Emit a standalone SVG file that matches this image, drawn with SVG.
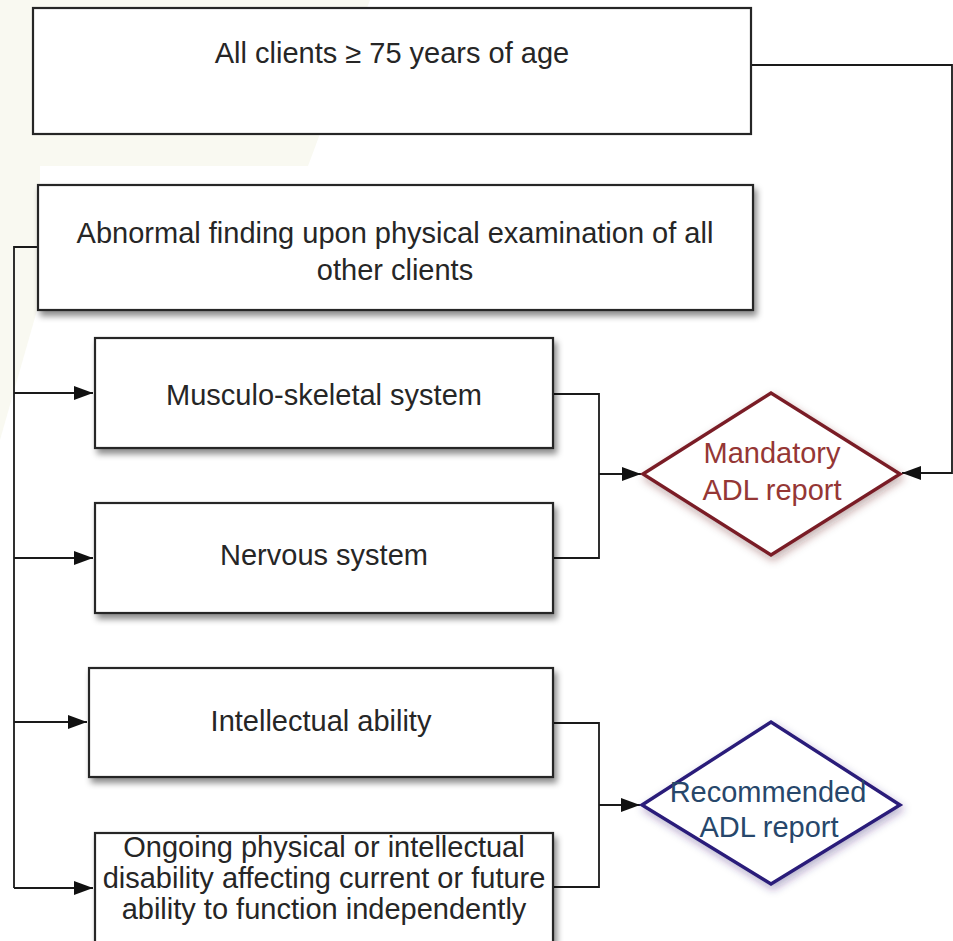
<svg xmlns="http://www.w3.org/2000/svg" width="953" height="941" viewBox="0 0 953 941">
<style>
  .box{fill:#ffffff;stroke:#262626;stroke-width:2.2}
  .t{font-family:"Liberation Sans",Arial,sans-serif;font-size:29px;fill:#262626;text-anchor:middle}
  .con{fill:none;stroke:#1a1a1a;stroke-width:1.8}
  .bg{fill:#f9f9f1}
</style>
<defs>
  <filter id="sh" x="-10%" y="-10%" width="125%" height="135%">
    <feDropShadow dx="3" dy="5" stdDeviation="3" flood-color="#000" flood-opacity="0.45"/>
  </filter>
  <filter id="glowR" x="-10%" y="-10%" width="125%" height="130%">
    <feDropShadow dx="2" dy="4" stdDeviation="4" flood-color="#5a2020" flood-opacity="0.35"/>
  </filter>
  <filter id="glowB" x="-10%" y="-10%" width="125%" height="130%">
    <feDropShadow dx="2" dy="4" stdDeviation="4" flood-color="#302070" flood-opacity="0.35"/>
  </filter>
  <marker id="arr" markerUnits="userSpaceOnUse" markerWidth="22" markerHeight="16" refX="19" refY="7" orient="auto">
    <path d="M0,0 L19,7 L0,14 z" fill="#111"/>
  </marker>
</defs>
<rect width="953" height="941" fill="#ffffff"/>
<g id="background">
  <polygon class="bg" points="0,0 370,0 308,166 0,166"/>
  <polygon class="bg" points="0,166 40,166 40,300 0,440"/>
</g>
<g id="connectors">
  <path class="con" d="M751,65 H952 V473 H902" marker-end="url(#arr)"/>
  <path class="con" d="M38,247 H14 V888"/>
  <path class="con" d="M14,393 H93" marker-end="url(#arr)"/>
  <path class="con" d="M14,558 H93" marker-end="url(#arr)"/>
  <path class="con" d="M14,722 H87" marker-end="url(#arr)"/>
  <path class="con" d="M14,888 H93" marker-end="url(#arr)"/>
  <path class="con" d="M553,394 H599 V558 H553"/>
  <path class="con" d="M599,474 H641" marker-end="url(#arr)"/>
  <path class="con" d="M553,723 H599 V887 H553"/>
  <path class="con" d="M599,805 H640" marker-end="url(#arr)"/>
</g>
<g id="node-all-clients">
  <rect class="box" x="33" y="8" width="718" height="126" stroke-width="2.6"/>
  <text class="t" x="392" y="63">All clients  ≥ 75 years of age</text>
</g>
<g id="node-abnormal">
  <rect class="box" x="38" y="185" width="715" height="125" filter="url(#sh)"/>
  <text class="t" x="395" y="243">Abnormal finding upon physical examination of all</text>
  <text class="t" x="395" y="280">other clients</text>
</g>
<g id="node-musculo">
  <rect class="box" x="95" y="338" width="458" height="110" filter="url(#sh)"/>
  <text class="t" x="324" y="405">Musculo-skeletal system</text>
</g>
<g id="node-nervous">
  <rect class="box" x="95" y="503" width="458" height="110" filter="url(#sh)"/>
  <text class="t" x="324" y="565">Nervous system</text>
</g>
<g id="node-intellectual">
  <rect class="box" x="89" y="668" width="464" height="109" filter="url(#sh)"/>
  <text class="t" x="321" y="731">Intellectual ability</text>
</g>
<g id="node-ongoing">
  <rect class="box" x="95" y="833" width="458" height="130" filter="url(#sh)"/>
  <text class="t" x="324" y="857">Ongoing physical or intellectual</text>
  <text class="t" x="324" y="888">disability affecting current or future</text>
  <text class="t" x="324" y="919">ability to function independently</text>
</g>
<g id="node-mandatory">
  <polygon points="643,474 771,393 900,474 771,555" fill="#ffffff" stroke="#7a1f27" stroke-width="3.4" filter="url(#glowR)"/>
  <text class="t" x="772" y="463" style="fill:#953735">Mandatory</text>
  <text class="t" x="772" y="500" style="fill:#953735">ADL report</text>
</g>
<g id="node-recommended">
  <polygon points="642,805 771,722 900,805 771,884" fill="#ffffff" stroke="#2a1d7a" stroke-width="3.4" filter="url(#glowB)"/>
  <text class="t" x="768" y="802" style="fill:#27476b">Recommended</text>
  <text class="t" x="769" y="837" style="fill:#27476b">ADL report</text>
</g>
</svg>
